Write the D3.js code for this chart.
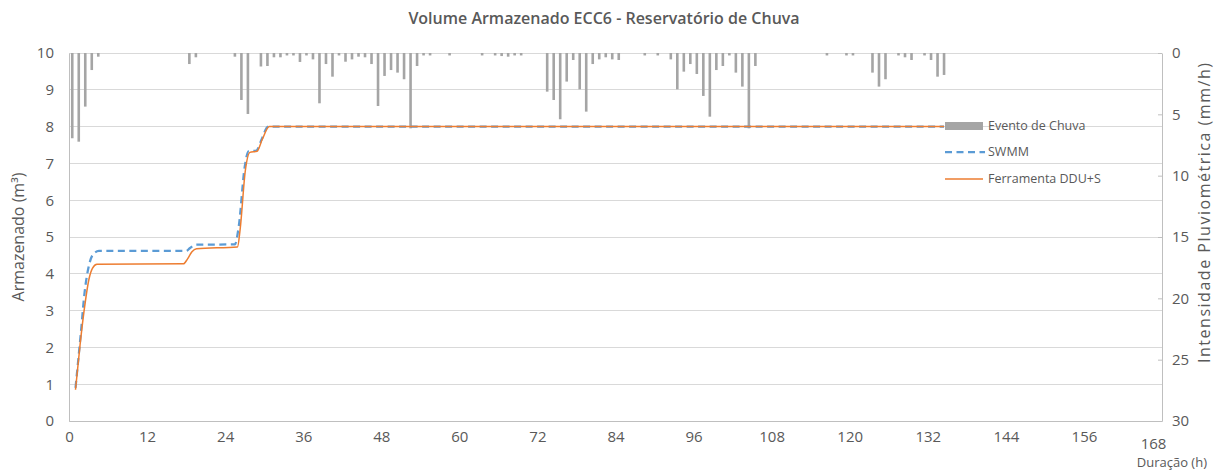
<!DOCTYPE html>
<html>
<head>
<meta charset="utf-8">
<script src="https://cdn.jsdelivr.net/npm/d3@7"></script>
<style>
  html, body { margin: 0; padding: 0; background: #fff; }
  svg { display: block; font-family: "Open Sans", "Noto Sans", sans-serif; }
</style>
</head>
<body>
<svg id="chart" width="1217" height="471"></svg>
<script>
// Hourly rainfall (mm/h) – hour index and intensity for the non-zero hours
const rainHour = [0, 1, 2, 3, 4, 18, 19, 25, 26, 27, 29, 30, 31, 32, 33, 34, 35, 36, 37, 38, 39, 40,
  41, 42, 43, 44, 45, 46, 47, 48, 49, 50, 51, 52, 53, 54, 55, 58, 63, 65, 66, 67, 68, 69,
  73, 74, 75, 76, 77, 78, 79, 80, 81, 82, 83, 84, 88, 90, 92, 93, 94, 95, 96, 97, 98, 99,
  100, 101, 102, 103, 104, 105, 116, 119, 120, 123, 124, 125, 127, 128, 129, 131, 132, 133, 134];
const rainIntensity = [6.95, 7.23, 4.37, 1.39, 0.3, 0.9, 0.35, 0.3, 3.83, 4.97, 1.1, 1.06, 0.35, 0.35, 0.2, 0.2, 0.73, 0.2, 0.52, 4.1, 0.9, 1.93,
  0.2, 0.71, 0.52, 0.3, 0.35, 0.9, 4.32, 1.87, 1.39, 1.6, 2.14, 6.14, 1.06, 0.2, 0.2, 0.2, 0.2, 0.2, 0.25, 0.3, 0.2, 0.2,
  3.15, 3.83, 5.4, 2.33, 0.57, 2.96, 4.78, 0.9, 0.52, 0.35, 0.52, 0.57, 0.2, 0.2, 0.52, 2.96, 1.52, 0.9, 1.71, 3.5, 5.19, 1.39,
  1.06, 0.2, 1.6, 2.74, 6.14, 1.06, 0.2, 0.2, 0.2, 1.6, 2.74, 2.14, 0.2, 0.35, 0.57, 0.2, 0.57, 1.93, 1.79];

// Stored volume (m³) over time (h)
const swmmTime = [1.0, 1.8, 2.4, 3.1, 3.8, 4.6, 18.0, 18.6, 19.4, 25.5, 26.1, 27.0, 27.6, 28.8, 29.6, 30.6, 134.5];
const swmmVol  = [0.9, 2.35, 3.5, 4.25, 4.55, 4.62, 4.62, 4.7, 4.79, 4.8, 5.3, 6.9, 7.33, 7.35, 7.65, 8.0, 8.0];

const ddusTime = [1.0, 1.7, 2.3, 3.1, 3.6, 4.3, 17.6, 18.2, 18.9, 19.6, 25.9, 26.3, 27.1, 27.8, 28.9, 29.7, 30.8, 134.5];
const ddusVol  = [0.85, 2.07, 2.97, 3.88, 4.15, 4.26, 4.27, 4.4, 4.6, 4.68, 4.73, 5.2, 6.8, 7.3, 7.33, 7.65, 8.0, 8.0];

const xTicks = d3.range(0, 169, 12);
const leftTicks = d3.range(0, 11, 1);
const rightTicks = d3.range(0, 31, 5);

const seriesNames = ["Evento de Chuva", "SWMM", "Ferramenta DDU+S"];
const colors = { rain: "#A5A5A5", swmm: "#5B9BD5", ddus: "#ED7D31" };
const textColor = "#595959";

const svg = d3.select("#chart");
const plot = { left: 69, right: 1162, top: 53, bottom: 421 };

const x = d3.scaleLinear().domain([0, 168]).range([plot.left, plot.right]);
const xBand = d3.scaleBand().domain(d3.range(168)).range([plot.left, plot.right]).paddingInner(0.6).paddingOuter(0.3);
const yLeft = d3.scaleLinear().domain([0, 10]).range([plot.bottom, plot.top]);
const yRight = d3.scaleLinear().domain([0, 30]).range([plot.top, plot.bottom]);

// Title
svg.append("text")
  .attr("x", 604).attr("y", 24)
  .attr("text-anchor", "middle")
  .attr("font-size", 16).attr("font-weight", 600)
  .attr("fill", textColor)
  .text("Volume Armazenado ECC6 - Reservatório de Chuva");

// Horizontal gridlines
svg.append("g")
  .selectAll("line")
  .data(leftTicks)
  .join("line")
  .attr("x1", plot.left).attr("x2", plot.right)
  .attr("y1", d => yLeft(d)).attr("y2", d => yLeft(d))
  .attr("stroke", "#D9D9D9").attr("stroke-width", 1)
  .attr("shape-rendering", "crispEdges");

// Rainfall bars hanging from the top
const rain = rainHour.map((h, i) => ({ h, v: rainIntensity[i] }));
svg.append("g")
  .selectAll("rect")
  .data(rain)
  .join("rect")
  .attr("x", d => xBand(d.h))
  .attr("width", xBand.bandwidth())
  .attr("y", yRight(0))
  .attr("height", d => yRight(d.v) - yRight(0))
  .attr("fill", colors.rain);

// Left axis
const gLeft = svg.append("g")
  .attr("transform", `translate(${plot.left},0)`)
  .call(d3.axisLeft(yLeft).tickValues(leftTicks).tickSize(0).tickPadding(15));
gLeft.select(".domain").attr("stroke", "#BFBFBF");
gLeft.selectAll("text").attr("font-size", 15).attr("fill", textColor).attr("font-family", "Open Sans");

// Right axis
const gRight = svg.append("g")
  .attr("transform", `translate(${plot.right},0)`)
  .call(d3.axisRight(yRight).tickValues(rightTicks).tickSizeInner(-4).tickSizeOuter(0).tickPadding(10));
gRight.select(".domain").attr("stroke", "#BFBFBF");
gRight.selectAll(".tick line").attr("stroke", "#BFBFBF");
gRight.selectAll("text").attr("font-size", 15).attr("fill", textColor).attr("font-family", "Open Sans");

// Bottom axis; the last label sits a little lower and to the left
const gBottom = svg.append("g")
  .attr("transform", `translate(0,${plot.bottom})`)
  .call(d3.axisBottom(x).tickValues(xTicks).tickSize(0).tickPadding(10));
gBottom.select(".domain").attr("stroke", "#BFBFBF");
gBottom.selectAll("text").attr("font-size", 15).attr("fill", textColor).attr("font-family", "Open Sans");
gBottom.selectAll(".tick").filter(d => d === 168).select("text")
  .attr("dy", "1.2em").attr("dx", -9);

// Volume lines
const line = d3.line().x(d => x(d[0])).y(d => yLeft(d[1])).curve(d3.curveMonotoneX);
const swmm = swmmTime.map((t, i) => [t, swmmVol[i]]);
const ddus = ddusTime.map((t, i) => [t, ddusVol[i]]);

svg.append("path")
  .datum(swmm)
  .attr("d", line)
  .attr("fill", "none")
  .attr("stroke", colors.swmm)
  .attr("stroke-width", 2.25)
  .attr("stroke-dasharray", "7,4.5");

svg.append("path")
  .datum(ddus)
  .attr("d", line)
  .attr("fill", "none")
  .attr("stroke", colors.ddus)
  .attr("stroke-width", 1.5);

// Axis titles
svg.append("text")
  .attr("transform", `translate(24,${(plot.top + plot.bottom) / 2}) rotate(-90)`)
  .attr("text-anchor", "middle")
  .attr("font-size", 16).attr("fill", textColor)
  .text("Armazenado (m³)");

svg.append("text")
  .attr("transform", `translate(1210,213) rotate(-90)`)
  .attr("text-anchor", "middle")
  .attr("font-size", 16).attr("fill", textColor)
  .attr("textLength", 300).attr("lengthAdjust", "spacing")
  .text("Intensidade Pluviométrica (mm/h)");

svg.append("text")
  .attr("x", 1207).attr("y", 467)
  .attr("text-anchor", "end")
  .attr("font-size", 13).attr("fill", textColor)
  .text("Duração (h)");

// Legend
const legend = svg.append("g").attr("transform", "translate(945,0)");
const legendRows = [
  { name: seriesNames[0], y: 126, kind: "rect" },
  { name: seriesNames[1], y: 152, kind: "dash" },
  { name: seriesNames[2], y: 179, kind: "line" }
];
legendRows.forEach(r => {
  if (r.kind === "rect") {
    legend.append("rect").attr("x", 0).attr("y", r.y - 4).attr("width", 38).attr("height", 8).attr("fill", colors.rain);
  } else if (r.kind === "dash") {
    legend.append("line").attr("x1", 0).attr("x2", 40).attr("y1", r.y).attr("y2", r.y)
      .attr("stroke", colors.swmm).attr("stroke-width", 2.25).attr("stroke-dasharray", "7,4.5");
  } else {
    legend.append("line").attr("x1", 0).attr("x2", 38).attr("y1", r.y).attr("y2", r.y)
      .attr("stroke", colors.ddus).attr("stroke-width", 1.5);
  }
  legend.append("text")
    .attr("x", 43).attr("y", r.y).attr("dy", "0.35em")
    .attr("font-size", 12.5).attr("fill", textColor)
    .text(r.name);
});
</script>
</body>
</html>
